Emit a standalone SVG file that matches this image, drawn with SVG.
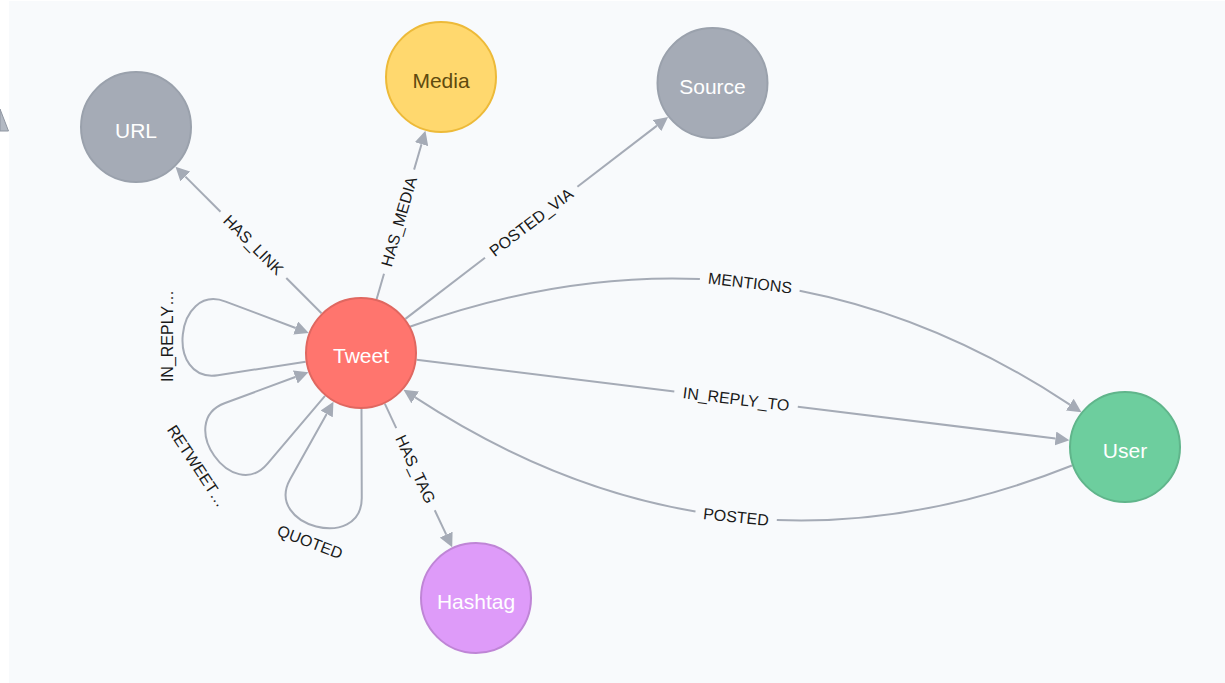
<svg xmlns="http://www.w3.org/2000/svg" width="1225" height="683" viewBox="0 0 1225 683">
  <style>
    .edge { fill: none; stroke: #a5abb6; stroke-width: 2; }
    .elabel { font-family: "Liberation Sans", Arial, sans-serif; font-size: 16px; fill: #1a1a1a; text-anchor: middle; }
    .node circle { stroke-width: 2; }
    .nlabel { font-family: "Liberation Sans", Arial, sans-serif; font-size: 21px; fill: #ffffff; text-anchor: middle; }
    .grey circle { fill: #a5abb6; stroke: #9aa1ac; }
  </style>
  <defs>
    <marker id="arrow" viewBox="0 0 14 14" markerWidth="14" markerHeight="14" refX="0" refY="7" orient="auto" markerUnits="userSpaceOnUse">
      <path d="M0,0 L14,7 L0,14 z" fill="#a5abb6"/>
    </marker>
  </defs>

  <!-- canvas -->
  <rect x="0" y="0" width="1225" height="683" fill="#ffffff"/>
  <rect x="9" y="1" width="1216" height="682" fill="#f8fafc"/>
  <polygon points="0,109 8.5,131 0,131" fill="#b3b9c3" stroke="#8f96a1" stroke-width="1"/>

  <g id="connectors">
    <g id="rel-has-link">
      <path class="edge" d="M321.5,313.3 L286.3,278"/>
      <path class="edge" d="M220.5,211.8 L185.4,176.6" marker-end="url(#arrow)"/>
      <text class="elabel" transform="translate(253.4,244.9) rotate(45.1)" y="5.5">HAS_LINK</text>
    </g>
    <g id="rel-has-media">
      <path class="edge" d="M376.6,299.2 L384,273.8"/>
      <path class="edge" d="M414.1,169.6 L421.5,144.2" marker-end="url(#arrow)"/>
      <text class="elabel" transform="translate(399.05,221.7) rotate(-73.8)" y="5.5">HAS_MEDIA</text>
    </g>
    <g id="rel-posted-via">
      <path class="edge" d="M405.4,318.9 L485,257.7"/>
      <path class="edge" d="M577.4,186.8 L657,125.6" marker-end="url(#arrow)"/>
      <text class="elabel" transform="translate(531.2,222.25) rotate(-37.5)" y="5.5">POSTED_VIA</text>
    </g>
    <g id="rel-has-tag">
      <path class="edge" d="M384.8,403.7 L396.25,428.15"/>
      <path class="edge" d="M434.75,510.2 L446.25,534.6" marker-end="url(#arrow)"/>
      <text class="elabel" transform="translate(415.5,469.15) rotate(64.9)" y="5.5">HAS_TAG</text>
    </g>
    <g id="rel-mentions">
      <path class="edge" d="M409,327 Q558.3,273.2 699.9,279"/>
      <path class="edge" d="M799.6,290.7 Q938.5,317.8 1069.8,404.6" marker-end="url(#arrow)"/>
      <text class="elabel" transform="translate(750,283) rotate(6.7)" y="5.5">MENTIONS</text>
    </g>
    <g id="rel-in-reply-to">
      <path class="edge" d="M416.6,359.8 L674.3,391.55"/>
      <path class="edge" d="M797.8,406.7 L1055.5,438.5" marker-end="url(#arrow)"/>
      <text class="elabel" transform="translate(736.05,399.15) rotate(7)" y="5.5">IN_REPLY_TO</text>
    </g>
    <g id="rel-posted">
      <path class="edge" d="M1072,465.5 Q921.5,525.5 776.8,520"/>
      <path class="edge" d="M695.5,511.5 Q552.4,487.25 415.2,397.4" marker-end="url(#arrow)"/>
      <text class="elabel" transform="translate(736,517) rotate(5.9)" y="5.5">POSTED</text>
    </g>
    <!-- self loops on Tweet, drawn along a local +x axis and rotated into place -->
    <g id="rel-loop-in-reply">
      <path class="edge" transform="translate(361,353) rotate(186)" d="M54.1,-14.5 L140,-37 C192.2,-50.7 192.2,50.7 140,37 L67.6,18" marker-end="url(#arrow)"/>
      <text class="elabel" transform="translate(167,336) rotate(-90)" y="5.5">IN_REPLY…</text>
    </g>
    <g id="rel-loop-retweet">
      <path class="edge" transform="translate(361,353) rotate(145)" d="M54.1,-14.5 L140,-37 C192.2,-50.7 192.2,50.7 140,37 L67.6,18" marker-end="url(#arrow)"/>
      <text class="elabel" transform="translate(197,466) rotate(56.6)" y="5.5">RETWEET…</text>
    </g>
    <g id="rel-loop-quoted">
      <path class="edge" transform="translate(361,353) rotate(104.5)" d="M54.1,-14.5 L140,-37 C192.2,-50.7 192.2,50.7 140,37 L67.6,18" marker-end="url(#arrow)"/>
      <text class="elabel" transform="translate(310,542) rotate(20.8)" y="5.5">QUOTED</text>
    </g>
  </g>

  <g id="node-url" class="node grey">
    <circle cx="136" cy="127" r="55"/>
    <text class="nlabel" x="136" y="137.5">URL</text>
  </g>
  <g id="node-media" class="node">
    <circle cx="441" cy="77" r="55" fill="#ffd86e" stroke="#edba39"/>
    <text class="nlabel" x="441" y="87.5" fill="#604a0e" style="fill:#604a0e">Media</text>
  </g>
  <g id="node-source" class="node grey">
    <circle cx="712.5" cy="83" r="55"/>
    <text class="nlabel" x="712.5" y="93.5">Source</text>
  </g>
  <g id="node-tweet" class="node">
    <circle cx="361" cy="353" r="55" fill="#ff756e" stroke="#e06760"/>
    <text class="nlabel" x="361" y="363">Tweet</text>
  </g>
  <g id="node-user" class="node">
    <circle cx="1125" cy="447" r="55" fill="#6dce9e" stroke="#60b58b"/>
    <text class="nlabel" x="1125" y="457.5">User</text>
  </g>
  <g id="node-hashtag" class="node">
    <circle cx="476" cy="598" r="55" fill="#de9bf9" stroke="#bf85d6"/>
    <text class="nlabel" x="476" y="608.5">Hashtag</text>
  </g>
</svg>
